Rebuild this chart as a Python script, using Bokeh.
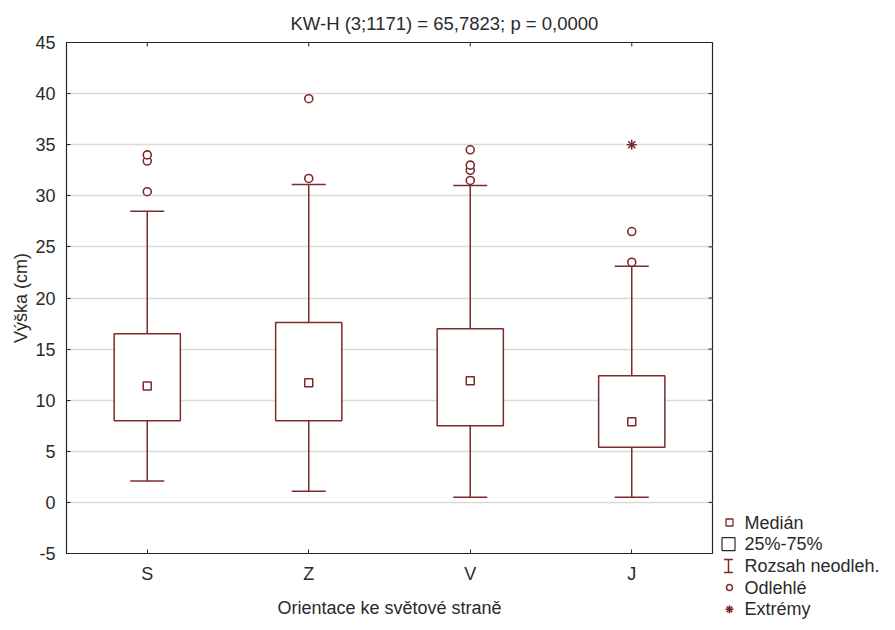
import math
from bokeh.plotting import figure
from bokeh.models import (Range1d, FactorRange, LinearAxis, CategoricalAxis,
                          FixedTicker, ColumnDataSource)
from bokeh.layouts import row
from bokeh.embed import file_html
from bokeh.resources import INLINE
from bokeh.core.properties import value

# ---------------- data ----------------
categories = ["S", "Z", "V", "J"]
whisker_low = [2.1, 1.1, 0.5, 0.5]
q1 = [8.0, 8.0, 7.5, 5.4]
median = [11.4, 11.7, 11.9, 7.9]
q3 = [16.5, 17.6, 17.0, 12.4]
whisker_high = [28.5, 31.1, 31.0, 23.1]
outlier_cat = ["S", "S", "S", "Z", "Z", "V", "V", "V", "V", "J", "J"]
outlier_val = [30.4, 33.4, 34.0, 31.7, 39.5, 31.5, 32.5, 33.0, 34.5, 23.5, 26.5]
extreme_cat = ["J"]
extreme_val = [35.0]
y_min, y_max = -5, 45
y_ticks = [-5, 0, 5, 10, 15, 20, 25, 30, 35, 40, 45]
title_text = "KW-H (3;1171) = 65,7823; p = 0,0000"
x_title = "Orientace ke světové straně"
y_title = "Výška (cm)"
legend_labels = ["Medián", "25%-75%", "Rozsah neodleh.", "Odlehlé", "Extrémy"]

FONT = "Liberation Sans"
C = "#7d2a2a"
AX = "#262626"
TXT = "#2a2a2a"

p = figure(width=720, height=620,
           x_range=FactorRange(*categories, range_padding=0, factor_padding=0),
           y_range=Range1d(y_min, y_max),
           output_backend="svg", toolbar_location=None,
           min_border_left=66, min_border_right=8, min_border_top=42,
           min_border_bottom=0, x_axis_location=None, y_axis_location=None)
p.outline_line_color = AX
p.outline_line_width = 1.2
p.background_fill_color = "white"

def style_axis(ax):
    ax.major_tick_in = 4
    ax.major_tick_out = 0
    ax.minor_tick_in = 0
    ax.minor_tick_out = 0
    ax.minor_tick_line_color = None
    ax.axis_line_color = AX
    ax.major_tick_line_color = AX
    ax.major_label_text_font = FONT
    ax.major_label_text_color = TXT
    ax.major_label_text_font_size = "18px"
    ax.axis_label_text_font = FONT
    ax.axis_label_text_font_size = "18px"
    ax.axis_label_text_font_style = "normal"
    ax.axis_label_text_color = TXT

xb = CategoricalAxis()
style_axis(xb)
xb.major_label_standoff = 10
xb.axis_label = x_title
xb.axis_label_standoff = 11
p.add_layout(xb, "below")

yl = LinearAxis(ticker=FixedTicker(ticks=y_ticks))
style_axis(yl)
yl.major_label_standoff = 11
yl.major_label_overrides = {t: str(t) for t in y_ticks}
yl.axis_label = y_title
yl.axis_label_standoff = 1
p.add_layout(yl, "left")

p.ygrid.ticker = FixedTicker(ticks=y_ticks)
p.ygrid.grid_line_color = "#d9d9d9"
p.ygrid.grid_line_width = 1.5
p.xgrid.grid_line_color = None

p.title.text = title_text
p.title.align = "left"
p.title.offset = 224
p.title.text_font = FONT
p.title.text_font_size = "18.5px"
p.title.text_font_style = "normal"
p.title.text_color = TXT
p.title.standoff = 17

# inward tick marks on the top and right frame edges (mirrored axes)
p.ray(x=[len(categories)] * len(y_ticks), y=y_ticks, length=4, length_units="screen",
      angle=math.pi, line_color=AX, line_width=1)
p.ray(x=categories, y=[y_max] * len(categories), length=4, length_units="screen",
      angle=-math.pi / 2, line_color=AX, line_width=1)

src = ColumnDataSource(dict(cat=categories, lo=whisker_low, q1=q1, med=median,
                            q3=q3, hi=whisker_high))
p.segment(x0="cat", y0="q3", x1="cat", y1="hi", source=src, line_color=C, line_width=1.5)
p.segment(x0="cat", y0="lo", x1="cat", y1="q1", source=src, line_color=C, line_width=1.5)
p.vbar(x="cat", width=0.41, bottom="q1", top="q3", source=src,
       fill_color="white", line_color=C, line_width=1.5)
p.scatter(x="cat", y="hi", source=src, marker="dash", size=34, line_color=C, line_width=1.5)
p.scatter(x="cat", y="lo", source=src, marker="dash", size=34, line_color=C, line_width=1.5)
p.scatter(x="cat", y="med", source=src, marker="square", size=8,
          fill_color="white", line_color=C, line_width=1.5)
p.scatter(x=outlier_cat, y=outlier_val, marker="circle", size=8,
          fill_color="white", line_color=C, line_width=1.6)
p.scatter(x=extreme_cat, y=extreme_val, marker="asterisk", size=10,
          line_color=C, line_width=1.5)

# ---------------- legend panel ----------------
LW, LH = 164, 620
lg = figure(width=LW, height=LH, x_range=Range1d(0, LW), y_range=Range1d(LH, 0),
            output_backend="svg", toolbar_location=None, min_border=0,
            x_axis_location=None, y_axis_location=None)
lg.frame_align = False
lg.outline_line_color = None
lg.grid.visible = False

row0, step = 522, 21.7
ys = [row0 + i * step for i in range(len(legend_labels))]
ix, tx = 9, 24
lg.scatter(x=[ix], y=[ys[0]], marker="square", size=7, fill_color="white",
           line_color=C, line_width=1.3)
lg.scatter(x=[ix - 1], y=[ys[1]], marker="square", size=13, fill_color="white",
           line_color=TXT, line_width=1.2)
lg.segment(x0=[ix - 1], y0=[ys[2] - 6.5], x1=[ix - 1], y1=[ys[2] + 6.5], line_color=C, line_width=1.5)
lg.segment(x0=[ix - 5.5, ix - 5.5], y0=[ys[2] - 6.5, ys[2] + 6.5],
           x1=[ix + 3.5, ix + 3.5], y1=[ys[2] - 6.5, ys[2] + 6.5], line_color=C, line_width=1.5)
lg.scatter(x=[ix], y=[ys[3]], marker="circle", size=6, fill_color="white",
           line_color=C, line_width=1.5)
lg.scatter(x=[ix], y=[ys[4]], marker="asterisk", size=8, line_color=C, line_width=1.5)
lg.text(x=[tx] * len(legend_labels), y=ys, text=legend_labels,
        text_font=value(FONT), text_font_size="18px", text_color=TXT,
        text_baseline="middle", text_align="left")

layout = row(p, lg)
open("out.html", "w").write(file_html(layout, INLINE))
